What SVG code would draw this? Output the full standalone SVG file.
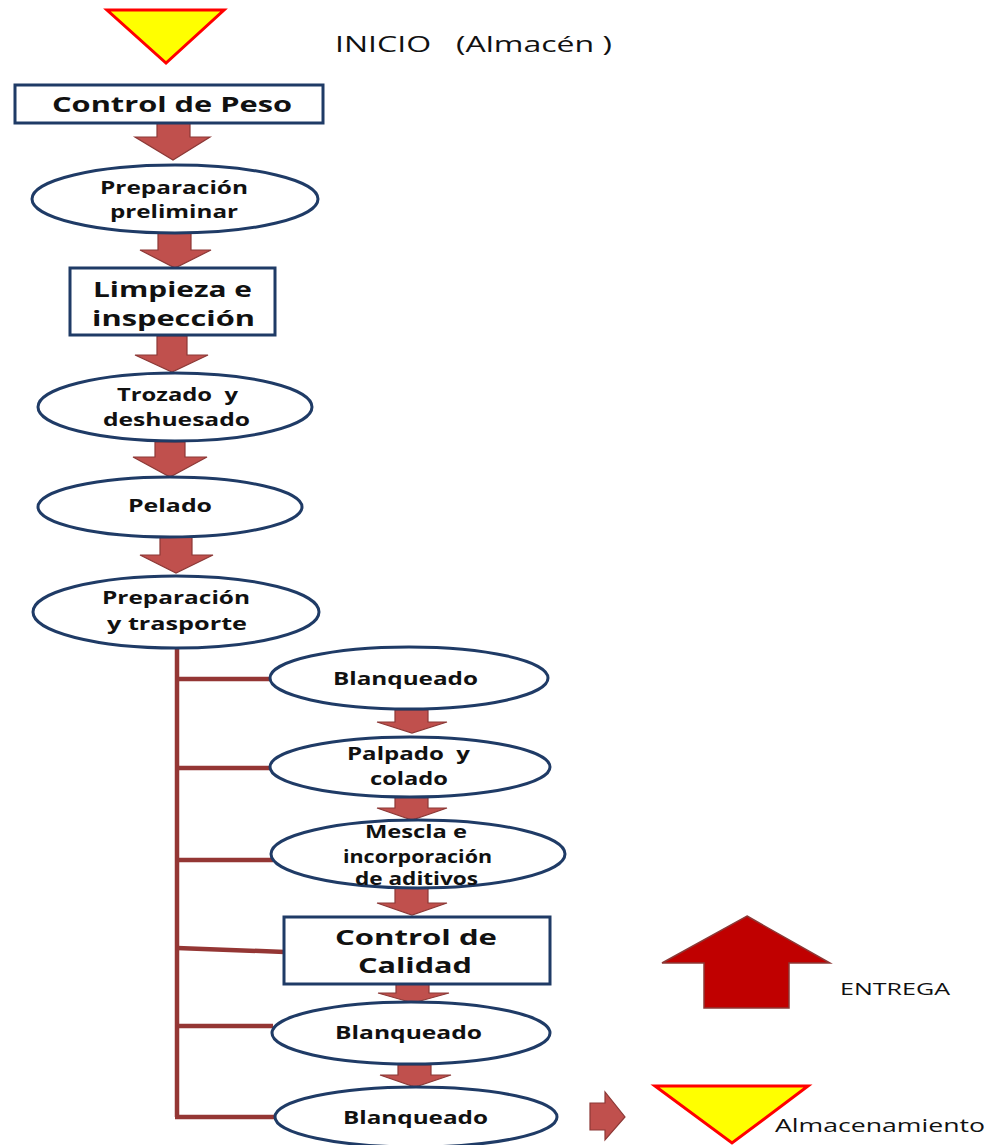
<svg xmlns="http://www.w3.org/2000/svg" width="988" height="1145" viewBox="0 0 988 1145">
<style>
.bg{fill:#fff}
.box{fill:#fff;stroke:#1F3B66;stroke-width:3}
.ell{fill:#fff;stroke:#1F3B66;stroke-width:3}
.arr{fill:#C0504D;stroke:#8C3836;stroke-width:1.2}
.tri{fill:#FFFF00;stroke:#FF0000;stroke-width:3;stroke-linejoin:miter}
.line{stroke:#943634;stroke-width:4.5;fill:none}
.big{fill:#C00000;stroke:#8C3836;stroke-width:1.5}
.t{font-family:"Open Sans","DejaVu Sans",sans-serif;font-weight:bold;fill:#111}
.n{font-family:"Open Sans","DejaVu Sans",sans-serif;fill:#111}
</style>
<rect class="bg" x="0" y="0" width="988" height="1145"/>

<g id="connectors">
  <path class="arr" d="M157,123 H190 V137 H210 L173,160 L135,137 H157 Z"/>
  <path class="arr" d="M158,233 H191 V250 H211 L175,268 L140,250 H158 Z"/>
  <path class="arr" d="M157,336 H187 V355 H208 L172,372 L135,355 H157 Z"/>
  <path class="arr" d="M155,442 H185 V457 H207 L170,477 L133,457 H155 Z"/>
  <path class="arr" d="M160,537 H192 V555 H213 L176,573 L140,555 H160 Z"/>
  <path class="arr" d="M395,710 H428 V722 H447 L412,733 L377,722 H395 Z"/>
  <path class="arr" d="M395,797 H428 V808 H447 L412,820 L377,808 H395 Z"/>
  <path class="arr" d="M395,888 H428 V903 H447 L412,915 L377,903 H395 Z"/>
  <path class="arr" d="M396,984 H429 V993 H449 L413,1003 L378,993 H396 Z"/>
  <path class="arr" d="M398,1065 H431 V1075 H451 L415,1087 L380,1075 H398 Z"/>
  <path class="line" d="M177,648 V1117"/>
  <path class="line" d="M177,679 H273"/>
  <path class="line" d="M177,768 H273"/>
  <path class="line" d="M177,860 H273"/>
  <path class="line" d="M177,948 L285,952"/>
  <path class="line" d="M177,1026 H273"/>
  <path class="line" d="M175,1117 H277"/>
  <path class="arr" d="M590,1103 H605 V1092 L625,1117 L605,1140 V1130 H590 Z"/>
</g>

<g id="inicio">
  <polygon class="tri" points="107,10 224,10 166,63"/>
  <text class="n" x="335" y="52" font-size="22" textLength="277" lengthAdjust="spacingAndGlyphs" xml:space="preserve">INICIO   (Almacén )</text>
</g>

<g id="control-peso">
  <rect class="box" x="15" y="85" width="308" height="38"/>
  <text class="t" x="52" y="112" font-size="21" textLength="240" lengthAdjust="spacingAndGlyphs">Control de Peso</text>
</g>

<g id="preparacion-preliminar">
  <ellipse class="ell" cx="175" cy="199" rx="143" ry="34"/>
  <text class="t" x="100" y="194" font-size="17" textLength="148" lengthAdjust="spacingAndGlyphs">Preparación</text>
  <text class="t" x="110" y="218" font-size="17" textLength="128" lengthAdjust="spacingAndGlyphs">preliminar</text>
</g>

<g id="limpieza">
  <rect class="box" x="70" y="268" width="205" height="67"/>
  <text class="t" x="93" y="297" font-size="21" textLength="159" lengthAdjust="spacingAndGlyphs">Limpieza e</text>
  <text class="t" x="92" y="326" font-size="21" textLength="163" lengthAdjust="spacingAndGlyphs">inspección</text>
</g>

<g id="trozado">
  <ellipse class="ell" cx="175" cy="407" rx="137" ry="34"/>
  <text class="t" x="117" y="401" font-size="18" textLength="121" lengthAdjust="spacingAndGlyphs" xml:space="preserve">Trozado  y</text>
  <text class="t" x="103" y="426" font-size="18" textLength="147" lengthAdjust="spacingAndGlyphs">deshuesado</text>
</g>

<g id="pelado">
  <ellipse class="ell" cx="170" cy="507" rx="132" ry="30"/>
  <text class="t" x="128" y="512" font-size="18" textLength="84" lengthAdjust="spacingAndGlyphs">Pelado</text>
</g>

<g id="preparacion-trasporte">
  <ellipse class="ell" cx="176" cy="612" rx="143" ry="36"/>
  <text class="t" x="102" y="604" font-size="18" textLength="148" lengthAdjust="spacingAndGlyphs">Preparación</text>
  <text class="t" x="107" y="630" font-size="18" textLength="140" lengthAdjust="spacingAndGlyphs">y trasporte</text>
</g>

<g id="blanqueado-1">
  <ellipse class="ell" cx="409" cy="678" rx="139" ry="31"/>
  <text class="t" x="333" y="685" font-size="18" textLength="145" lengthAdjust="spacingAndGlyphs">Blanqueado</text>
</g>

<g id="palpado">
  <ellipse class="ell" cx="410" cy="767" rx="140" ry="30"/>
  <text class="t" x="347" y="760" font-size="18" textLength="123" lengthAdjust="spacingAndGlyphs" xml:space="preserve">Palpado  y</text>
  <text class="t" x="370" y="785" font-size="18" textLength="78" lengthAdjust="spacingAndGlyphs">colado</text>
</g>

<g id="mescla">
  <ellipse class="ell" cx="418" cy="854" rx="147" ry="34"/>
  <text class="t" x="365" y="838" font-size="18" textLength="102" lengthAdjust="spacingAndGlyphs">Mescla e</text>
  <text class="t" x="343" y="863" font-size="18" textLength="149" lengthAdjust="spacingAndGlyphs">incorporación</text>
  <text class="t" x="355" y="885" font-size="18" textLength="123" lengthAdjust="spacingAndGlyphs">de aditivos</text>
</g>

<g id="control-calidad">
  <rect class="box" x="284" y="917" width="266" height="67"/>
  <text class="t" x="335" y="945" font-size="21" textLength="162" lengthAdjust="spacingAndGlyphs">Control de</text>
  <text class="t" x="358" y="973" font-size="21" textLength="114" lengthAdjust="spacingAndGlyphs">Calidad</text>
</g>

<g id="blanqueado-2">
  <ellipse class="ell" cx="411" cy="1033" rx="139" ry="31"/>
  <text class="t" x="335" y="1039" font-size="18" textLength="147" lengthAdjust="spacingAndGlyphs">Blanqueado</text>
</g>

<g id="blanqueado-3">
  <ellipse class="ell" cx="416" cy="1117" rx="141" ry="30"/>
  <text class="t" x="343" y="1124" font-size="18" textLength="145" lengthAdjust="spacingAndGlyphs">Blanqueado</text>
</g>

<g id="entrega">
  <path class="big" d="M747,916 L830,963 H789 V1008 H704 V963 H662 Z"/>
  <text class="n" x="840" y="995" font-size="17" textLength="110" lengthAdjust="spacingAndGlyphs">ENTREGA</text>
</g>

<g id="almacenamiento">
  <polygon class="tri" points="655,1086 808,1086 732,1143"/>
  <text class="n" x="775" y="1132" font-size="19" textLength="210" lengthAdjust="spacingAndGlyphs">Almacenamiento</text>
</g>
</svg>
